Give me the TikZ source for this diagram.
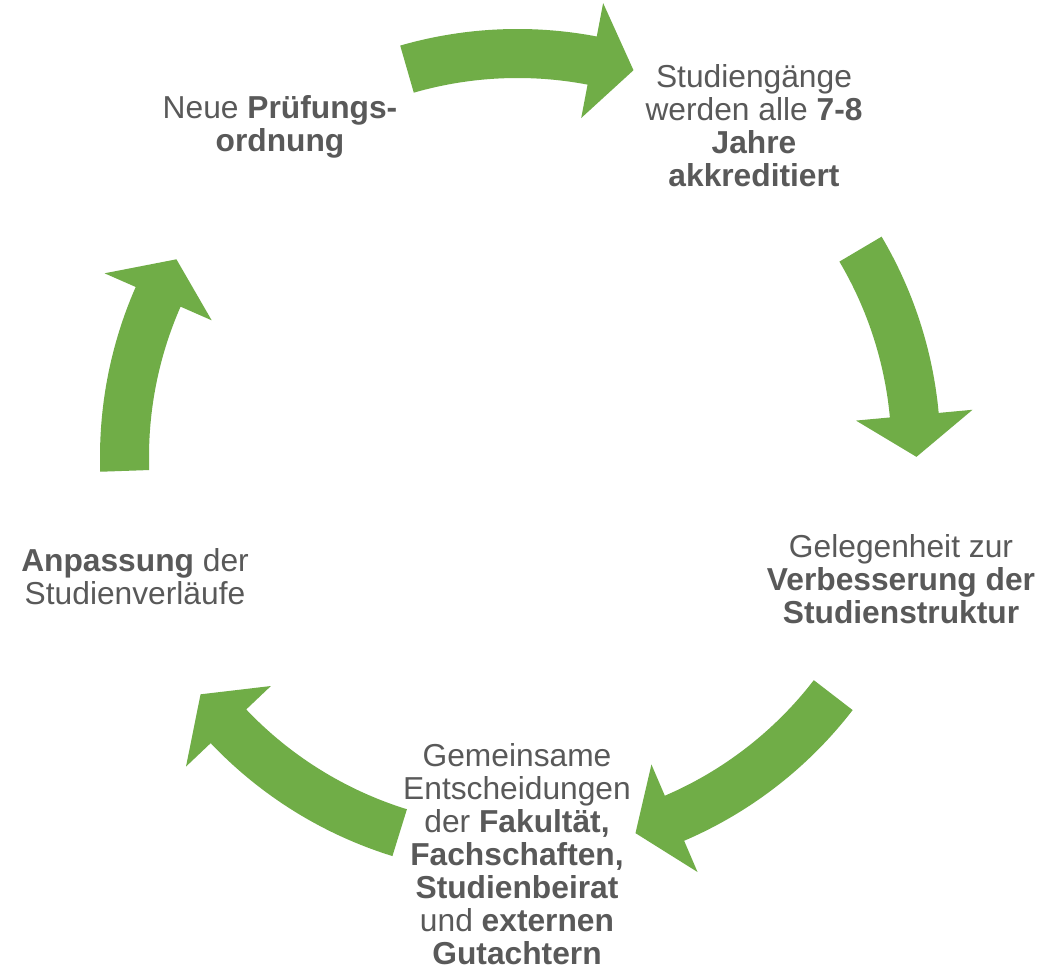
\documentclass[tikz,border=0pt]{standalone}
\usepackage{fontspec}
\setmainfont{Liberation Sans}
\definecolor{arrowgreen}{HTML}{70AD47}
\definecolor{txtgray}{HTML}{595959}
\tikzset{
  arrowfill/.style={fill=arrowgreen},
  cyctext/.style={align=center, inner sep=0pt, text=txtgray,
    font=\fontsize{23.8pt}{24.75pt}\selectfont}
}
% #1,#2 = arc centre, #3 = tail angle, #4 = head-base angle, #5 = tip angle
\newcommand{\cycarrow}[5]{%
  \begin{scope}[shift={(#1,#2)}]
    \fill[arrowfill] (#3:317.25pt) arc[start angle=#3, end angle=#4, radius=317.25pt]
      -- (#4:342.75pt) -- (#5:299.25pt) -- (#4:255pt) -- (#4:280.5pt)
      arc[start angle=#4, end angle=#3, radius=280.5pt] -- cycle;
  \end{scope}}
\begin{document}
\begin{tikzpicture}[x=0.75pt,y=0.75pt]
  \fill[white] (0,0) rectangle (1041,969);
  \useasboundingbox (0,0) rectangle (1041,969);

  % arrows
  \cycarrow{517.5}{517}{106.1}{79.2}{73.1}
  \cycarrow{517.5}{517}{30.6}{5.3}{-0.7}
  \cycarrow{517.5}{517}{-37.6}{-66.8}{-72.8}
  \cycarrow{517.5}{517}{-107.2}{-136.5}{-142.6}
  \cycarrow{523}{512}{182}{156.3}{150.3}

  % texts
  \node[cyctext] (pruef) at (280,842) {Neue \textbf{Prüfungs-}\\\textbf{ordnung}};
  \node[cyctext] (akkred) at (754,843) {Studiengänge\\werden alle \textbf{7-8}\\\textbf{Jahre}\\\textbf{akkreditiert}};
  \node[cyctext] (gelegen) at (901,389.5) {Gelegenheit zur\\\textbf{Verbesserung der}\\\textbf{Studienstruktur}};
  \node[cyctext] (entsch) at (517,115) {Gemeinsame\\Entscheidungen\\der \textbf{Fakultät,}\\\textbf{Fachschaften,}\\\textbf{Studienbeirat}\\und \textbf{externen}\\\textbf{Gutachtern}};
  \node[cyctext] (anpass) at (135,392.5) {\textbf{Anpassung} der\\Studienverläufe};
\end{tikzpicture}
\end{document}
